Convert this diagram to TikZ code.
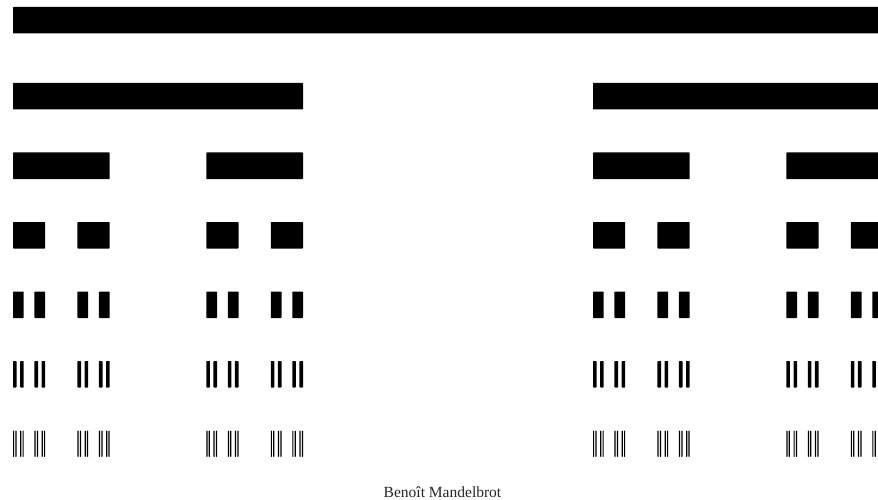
\documentclass[tikz,border=0pt]{standalone}
\usepackage{fontspec}
\setmainfont{Liberation Serif}
\usepackage{tikz}

% one Cantor segment and all of its descendants down to level 6
\newcommand{\cantorseg}[3]{% #1 = left end, #2 = length, #3 = level
  \pgfmathsetmacro{\segtop}{ifthenelse(#3==0,7,83+69.5*(#3-1))}
  \fill[bar] (#1,\segtop) rectangle ++(#2,26.5);
  \ifnum#3<6
    \pgfmathsetmacro{\segthird}{#2/3}
    \pgfmathsetmacro{\segright}{#1+2*#2/3}
    \edef\segnext{%
      \noexpand\cantorseg{#1}{\segthird}{\the\numexpr#3+1\relax}%
      \noexpand\cantorseg{\segright}{\segthird}{\the\numexpr#3+1\relax}}%
    \segnext
  \fi}

\begin{document}
\begin{tikzpicture}[
  x=1pt,y=-1pt,
  bar/.style={fill=black,rounded corners=0.6pt},
  caption/.style={font=\fontsize{15.5}{18}\selectfont,text=black!85,anchor=base,inner sep=0pt}
]
\clip (0,0) rectangle (878,500);
\fill[white] (0,0) rectangle (878,500);
\cantorseg{13}{870}{0}
\node[caption] (author) at (442.5,497) {Benoît Mandelbrot};
\end{tikzpicture}
\end{document}
